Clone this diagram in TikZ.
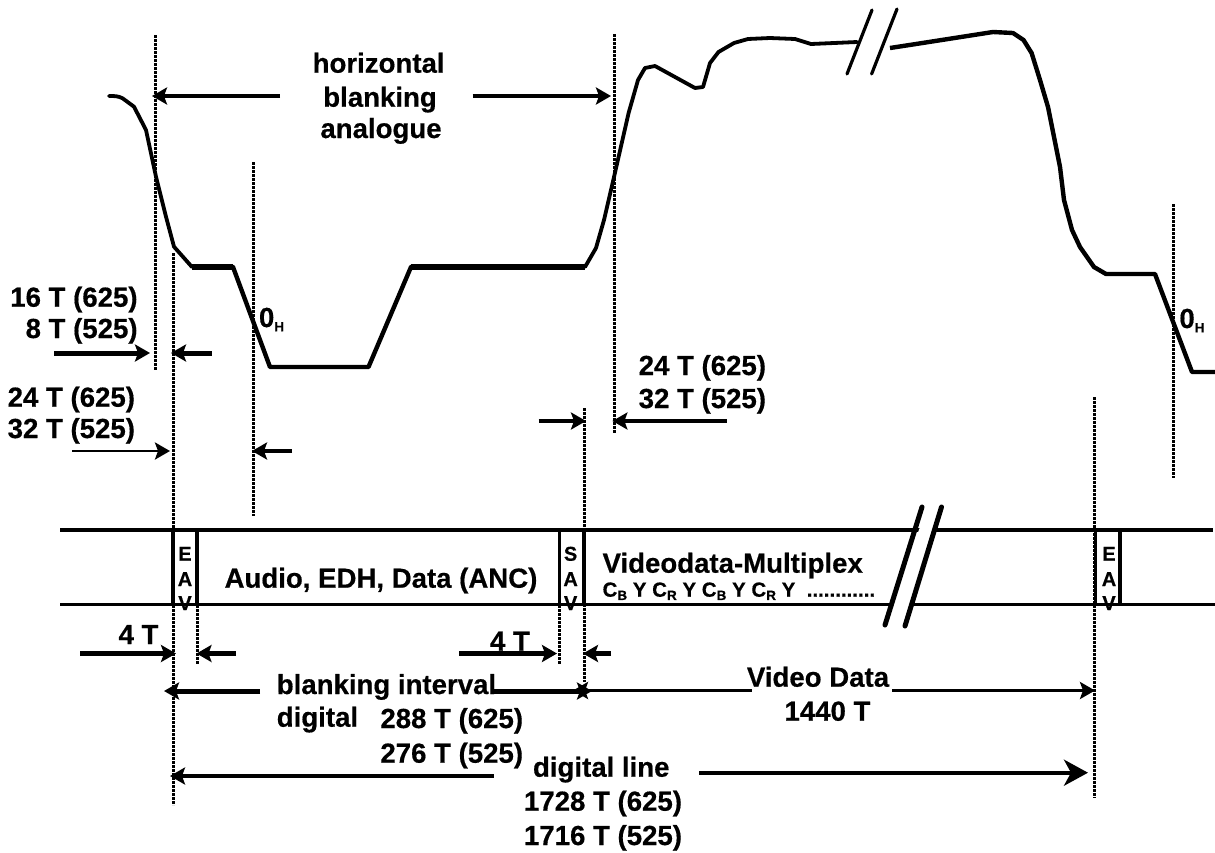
\documentclass[tikz,border=0pt]{standalone}
\usepackage{fontspec}
\setmainfont{Liberation Sans}[BoldFeatures={FakeBold=0.5}]
\usetikzlibrary{arrows.meta}
\newcommand{\subtxt}[1]{\raisebox{-0.16em}{\fontsize{13.5pt}{14pt}\selectfont #1}}
\tikzset{
  lbl/.style={inner sep=0pt,outer sep=0pt,font=\fontsize{27.6pt}{30pt}\selectfont\bfseries,anchor=base},
  lbll/.style={lbl,anchor=base west},
  lblr/.style={lbl,anchor=base east},
  sav/.style={inner sep=0pt,font=\fontsize{20pt}{22pt}\selectfont\bfseries,anchor=base},
  guide/.style={line width=3pt,dash pattern=on 2.6pt off 1.4pt},
  wave/.style={line width=3.8pt,line join=round,line cap=round},
  bar/.style={line width=3.4pt},
  arr/.style={-{Stealth[length=15pt,width=17pt,inset=3pt]}},
  thin arr/.style={arr,line width=2.8pt},
  mid arr/.style={arr,line width=3.6pt},
  fat arr/.style={arr,line width=5pt},
}
\begin{document}
\begin{tikzpicture}[x=1pt,y=-1pt]
\useasboundingbox (0,0) rectangle (1215,852);
% dotted guide lines
\draw[guide] (155,35) -- (155,370);
\draw[guide] (173,253) -- (173,805);
\draw[guide] (253,162) -- (253,516);
\draw[guide] (614,34) -- (614,433);
\draw[guide] (584,408) -- (584,682);
\draw[guide] (1094,397) -- (1094,798);
\draw[guide] (1173,204) -- (1173,478);
\draw[guide] (559,605) -- (559,664);
\draw[guide] (197,605) -- (197,664);
% waveform
\draw[wave] (109,96) .. controls (115,96) and (118,96) .. (122.6,98.3) -- (134,106.7) -- (146,130) -- (156,176.7) -- (166,216.7) -- (174,246.7) -- (192,267);
\draw[line width=5.4pt] (192,267) -- (233,267);
\draw[wave,line width=4.4pt] (233,267) -- (270,367) -- (368.5,367) -- (411,267);
\draw[line width=5.4pt] (411,267) -- (585,267);
\draw[wave] (585,267) -- (596,248) -- (604,220) -- (614,177) -- (628.6,113) -- (638,80) -- (645,68) -- (655,66) -- (695,88) -- (703,87) -- (710,63) -- (718.5,52) -- (734,43) -- (748,39) -- (770,38) -- (795,39) -- (811,44) -- (857,42);
\draw[wave,line cap=butt,line width=4.4pt] (890,48) -- (916,44) -- (993,32) -- (1013,33) -- (1023.5,40) -- (1031.6,53) -- (1040,80) -- (1048,107) -- (1060,167) -- (1064,200) -- (1072,230) -- (1080,247) -- (1094,267) -- (1106,274) -- (1155,274) -- (1192,372) -- (1215,372);
\draw[wave,line width=3.2pt] (872,10) -- (847,74);
\draw[wave,line width=3.2pt] (897,9) -- (871.6,74);
% data bar
\draw[bar] (60,530) -- (1213,530);
\draw[bar] (60,604.5) -- (1215,604.5);
\fill[white] (920,527) -- (937,527) -- (911,608) -- (890,608) -- cycle;
\draw[line width=5pt,line cap=round] (922,507) -- (885,625);
\draw[line width=5pt,line cap=round] (941.5,507) -- (905,626);
\draw[line width=4.4pt] (173,530) -- (173,605);
\draw[line width=3.4pt] (197,530) -- (197,605);
\draw[line width=3pt] (559,530) -- (559,605);
\draw[line width=3.4pt] (584,530) -- (584,605);
\draw[line width=3.4pt] (1095.5,530) -- (1095.5,605);
\draw[line width=3.4pt] (1120,530) -- (1120,605);
% arrow end points
\coordinate (hbLt) at (280,96);   \coordinate (hbLh) at (152,96);
\coordinate (hbRt) at (472.5,96); \coordinate (hbRh) at (611,96);
\coordinate (a16t) at (54,353);   \coordinate (a16h) at (150,353);
\coordinate (b16t) at (211.5,353);\coordinate (b16h) at (171,353);
\coordinate (a24t) at (72,451);   \coordinate (a24h) at (170,451);
\coordinate (b24t) at (292,451);  \coordinate (b24h) at (252,451);
\coordinate (c24t) at (538.5,421);\coordinate (c24h) at (586,421);
\coordinate (d24t) at (726.6,421);\coordinate (d24h) at (612.4,421);
\coordinate (t4at) at (80,653.5); \coordinate (t4ah) at (176,653.5);
\coordinate (t4bt) at (236,653.5);\coordinate (t4bh) at (196.5,653.5);
\coordinate (t4ct) at (459,653.5);\coordinate (t4ch) at (557,653.5);
\coordinate (t4dt) at (611,653.5);\coordinate (t4dh) at (583,653.5);
\coordinate (blLt) at (260,691);  \coordinate (blLh) at (164,691);
\coordinate (blRt) at (494,691);  \coordinate (blRh) at (592,691);
\coordinate (vdLt) at (751.6,690.5);\coordinate (vdLh) at (573,690.5);
\coordinate (vdRt) at (892,690.5);\coordinate (vdRh) at (1095,690.5);
\coordinate (dlLt) at (493.5,776);\coordinate (dlLh) at (170,776);
\coordinate (dlRt) at (699,772.7);\coordinate (dlRh) at (1088,772.7);
% arrows
\draw[mid arr] (hbLt) -- (hbLh);
\draw[mid arr] (hbRt) -- (hbRh);
\draw[fat arr] (a16t) -- (a16h);
\draw[fat arr] (b16t) -- (b16h);
\draw[thin arr] (a24t) -- (a24h);
\draw[mid arr] (b24t) -- (b24h);
\draw[mid arr] (c24t) -- (c24h);
\draw[mid arr,line width=4pt] (d24t) -- (d24h);
\draw[fat arr] (t4at) -- (t4ah);
\draw[fat arr] (t4bt) -- (t4bh);
\draw[fat arr,line width=4.5pt] (t4ct) -- (t4ch);
\draw[fat arr] (t4dt) -- (t4dh);
\draw[fat arr] (blLt) -- (blLh);
\draw[fat arr] (blRt) -- (blRh);
\draw[mid arr,line width=3pt] (vdLt) -- (vdLh);
\draw[mid arr,line width=3pt] (vdRt) -- (vdRh);
\draw[mid arr] (dlLt) -- (dlLh);
\draw[arr,line width=4pt,-{Stealth[length=24pt,width=26pt,inset=7pt]}] (dlRt) -- (dlRh);
% texts
\node[lbl] (t1) at (378.6,72.7) {horizontal};
\node[lbl] (t2) at (380,106.7) {blanking};
\node[lbl] (t3) at (381,138) {analogue};
\node[lblr] (t4) at (137.6,306.7) {16 T (625)};
\node[lblr] (t5) at (137.6,338) {8 T (525)};
\node[lblr] (t6) at (135,406.7) {24 T (625)};
\node[lblr] (t7) at (135,438) {32 T (525)};
\node[lbll] (t8) at (638.7,375) {24 T (625)};
\node[lbll] (t9) at (638.7,408) {32 T (525)};
\node[lbll] (oh1) at (259,327) {0\subtxt{H}};
\node[lbll] (oh2) at (1179.4,328) {0\subtxt{H}};
\node[sav] (e1) at (185,560.7) {E};
\node[sav] (a1) at (185,586) {A};
\node[sav] (v1) at (185,610) {V};
\node[sav] (s2) at (570.6,560.7) {S};
\node[sav] (a2) at (570.6,586) {A};
\node[sav] (v2) at (570.6,610) {V};
\node[sav] (e3) at (1109,560.7) {E};
\node[sav] (a3) at (1109,586) {A};
\node[sav] (v3) at (1109,610) {V};
\node[lbll] (aud) at (224.6,587.7) {Audio, EDH, Data (ANC)};
\node[lbll] (vm) at (602.6,572.7) {Videodata-Multiplex};
\node[lbll,font=\fontsize{20.5pt}{22pt}\selectfont\bfseries] (cbc) at (602.6,596.7) {C\subtxt{B} Y C\subtxt{R} Y C\subtxt{B} Y C\subtxt{R} Y \ ............};
\node[lbll] (f1) at (118.6,644) {4 T};
\node[lbll] (f2) at (490,650.7) {4 T};
\node[lbll] (bi) at (276.8,694) {blanking interval};
\node[lbll] (dg) at (276.8,726.7) {digital};
\node[lbll] (n288) at (380.4,728) {288 T (625)};
\node[lbll] (n276) at (380.4,762.7) {276 T (525)};
\node[lbll] (dl) at (533,776.7) {digital line};
\node[lbll] (n1728) at (524,810.7) {1728 T (625)};
\node[lbll] (n1716) at (524,845) {1716 T (525)};
\node[lbl] (vd) at (818,686.7) {Video Data};
\node[lbl] (n1440) at (827.5,720.7) {1440 T};
\end{tikzpicture}
\end{document}
